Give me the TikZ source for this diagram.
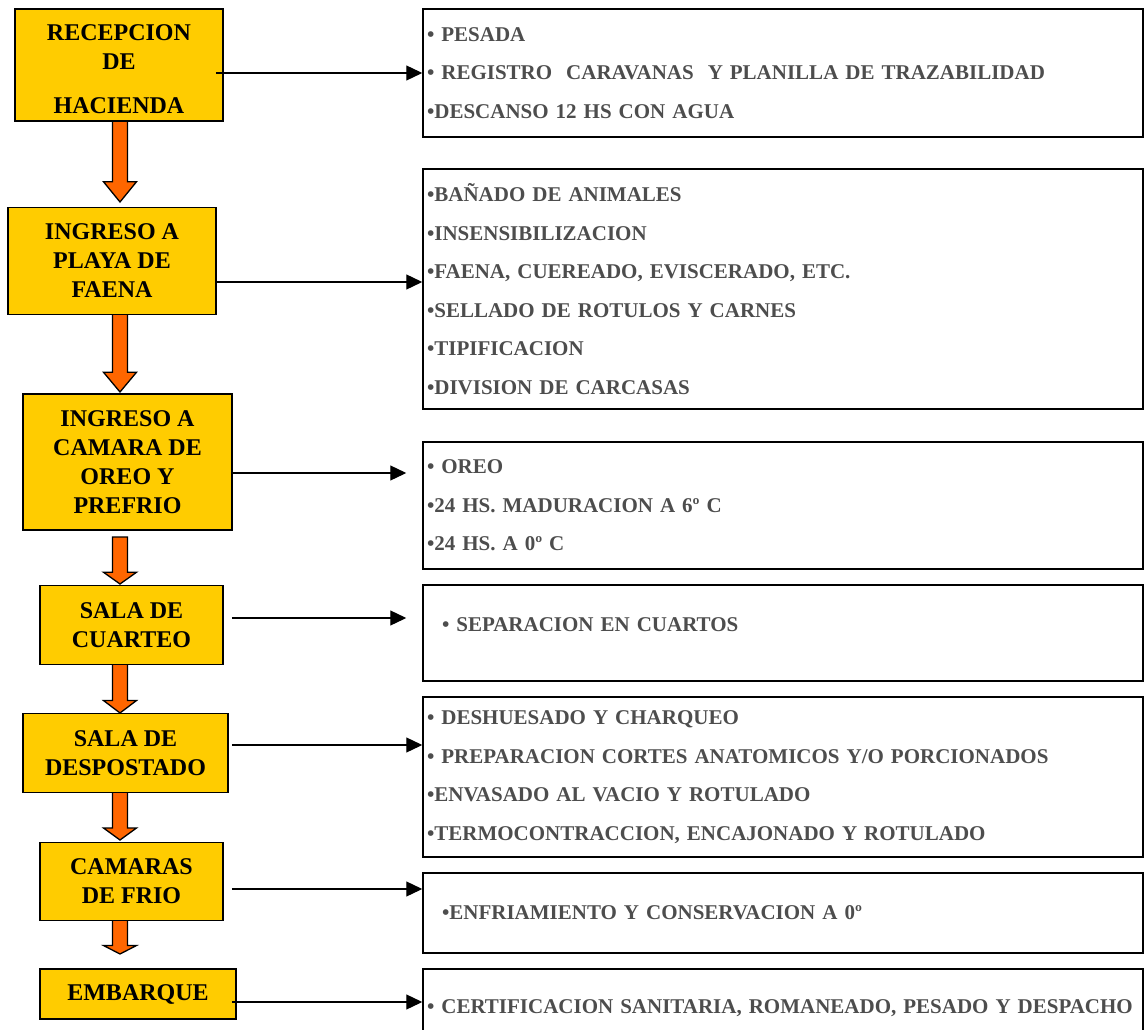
\documentclass[tikz,border=0pt]{standalone}
\usepackage{fontspec}
\setmainfont{Liberation Serif}
\usetikzlibrary{arrows.meta}

\definecolor{amarillo}{HTML}{FFCC00}
\definecolor{naranja}{HTML}{FF6600}
\definecolor{grisTexto}{HTML}{4D4D4D}

\tikzset{
  etapa/.style={draw, line width=1.5pt, fill=amarillo, align=center,
    inner sep=0pt, font=\bfseries\fontsize{24}{29}\selectfont},
  detalle/.style={draw, line width=1.5pt, align=left, text width=712pt,
    inner xsep=4pt, inner ysep=0pt, text=grisTexto,
    font=\bfseries\fontsize{21}{38.5}\selectfont},
  flecha/.style={-{Triangle[length=16pt,width=15pt]}, line width=1.3pt},
  bajada/.style={draw, fill=naranja, line width=1.3pt},
}

\begin{document}
\begin{tikzpicture}[x=1pt,y=-1pt]
\useasboundingbox (0,0) rectangle (1144,1030);

% flechas naranjas entre etapas
\foreach \ya/\yb in {121/202,313/392,537/584,663/713,792/840,920/954}{
  \pgfmathsetmacro{\yc}{\yb-0.25*(\yb-\ya)}
  \draw[bajada] (112.5,\ya) -- (127.5,\ya) -- (127.5,\yc) -- (136.5,\yc)
    -- (120,\yb) -- (103.5,\yc) -- (112.5,\yc) -- cycle;
}

% etapas
\node[etapa, minimum width=208pt, minimum height=112pt, text height=97pt] (recep) at (119,65)
{RECEPCION\\ DE\\[15pt] HACIENDA};
\node[etapa, minimum width=208pt, minimum height=107pt] (playa) at (112,261)
{INGRESO A\\ PLAYA DE\\ FAENA};
\node[etapa, minimum width=209pt, minimum height=136pt] (camara) at (127.5,462)
{INGRESO A\\ CAMARA DE\\ OREO Y\\ PREFRIO};
\node[etapa, minimum width=183pt, minimum height=79pt] (cuarteo) at (131.5,625)
{SALA DE\\ CUARTEO};
\node[etapa, minimum width=205pt, minimum height=79pt] (despost) at (125.5,753)
{SALA DE\\ DESPOSTADO};
\node[etapa, minimum width=183pt, minimum height=78pt] (camaras) at (131.5,881.5)
{CAMARAS\\ DE FRIO};
\node[etapa, minimum width=196pt, minimum height=50pt] (embarque) at (138,994)
{EMBARQUE};

% detalles
\node[detalle, minimum height=128pt] (pesada) at (783,73)
{• PESADA\\
• REGISTRO\ \ CARAVANAS\ \ Y PLANILLA DE TRAZABILIDAD\\
•DESCANSO 12 HS CON AGUA};
\node[detalle, minimum height=240pt] (faena) at (783,289)
{•BAÑADO DE ANIMALES\\
•INSENSIBILIZACION\\
•FAENA, CUEREADO, EVISCERADO, ETC.\\
•SELLADO DE ROTULOS Y CARNES\\
•TIPIFICACION\\
•DIVISION DE CARCASAS};
\node[detalle, minimum height=127pt] (oreo) at (783,505.5)
{• OREO\\
•24 HS. MADURACION A 6º C\\
•24 HS. A 0º C};
\node[detalle, minimum height=96pt, text depth=16pt] (cuartos) at (783,633)
{\hspace*{15pt}• SEPARACION EN CUARTOS};
\node[detalle, minimum height=160pt] (desposte) at (783,777)
{• DESHUESADO Y CHARQUEO\\
• PREPARACION CORTES ANATOMICOS Y/O PORCIONADOS\\
•ENVASADO AL VACIO Y ROTULADO\\
•TERMOCONTRACCION, ENCAJONADO Y ROTULADO};
\node[detalle, minimum height=80pt] (frio) at (783,913)
{\hspace*{15pt}•ENFRIAMIENTO Y CONSERVACION A 0º};
\node[detalle, minimum height=78pt, text depth=3pt] (despacho) at (783,1008)
{• CERTIFICACION SANITARIA, ROMANEADO, PESADO Y DESPACHO};

% flechas hacia los detalles
\draw[flecha, shorten <=-8pt] (recep.east |- 0,73) -- (pesada.west |- 0,73);
\draw[flecha] (playa.east |- 0,282) -- (faena.west |- 0,282);
\draw[flecha, shorten >=16pt] (camara.east |- 0,473) -- (oreo.west |- 0,473);
\draw[flecha, shorten <=8pt, shorten >=16pt] (cuarteo.east |- 0,618) -- (cuartos.west |- 0,618);
\draw[flecha, shorten <=3pt] (despost.east |- 0,745) -- (desposte.west |- 0,745);
\draw[flecha, shorten <=8pt] (camaras.east |- 0,889) -- (frio.west |- 0,889);
\draw[flecha, shorten <=-5pt] (embarque.east |- 0,1002) -- (despacho.west |- 0,1002);
\end{tikzpicture}
\end{document}
